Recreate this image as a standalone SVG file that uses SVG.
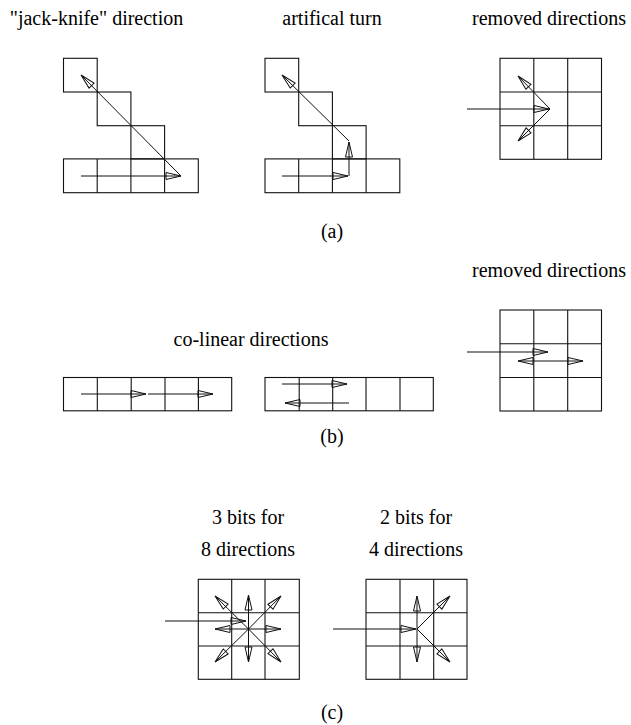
<svg xmlns="http://www.w3.org/2000/svg" width="631" height="725" viewBox="0 0 631 725">
<style>
.g{fill:none;stroke:#111;stroke-width:1.1}
.a{fill:none;stroke:#111;stroke-width:1}
.a{marker-end:url(#ah)}
text{font-family:"Liberation Serif","Times New Roman",serif;font-size:20px;fill:#000;text-anchor:middle}
</style>
<defs>
<marker id="ah" viewBox="-1 -5 17 10" refX="15" refY="0" markerWidth="17" markerHeight="10" markerUnits="userSpaceOnUse" orient="auto">
<path d="M0,-3.5 L15,0 L0,3.5 Z" fill="none" stroke="#111" stroke-width="1"/>
</marker>
</defs>
<rect width="631" height="725" fill="#fff"/>

<g id="labels">
<text x="96.5" y="25">"jack-knife" direction</text>
<text x="332" y="25">artifical turn</text>
<text x="549" y="25">removed directions</text>
<text x="332" y="238">(a)</text>
<text x="549" y="277">removed directions</text>
<text x="251" y="346">co-linear directions</text>
<text x="332" y="443">(b)</text>
<text x="248" y="524">3 bits for</text>
<text x="248" y="556">8 directions</text>
<text x="416" y="524">2 bits for</text>
<text x="416" y="556">4 directions</text>
<text x="332" y="719">(c)</text>
</g>

<g id="a-jackknife">
<rect class="g" x="63.5" y="58.3" width="33.7" height="33.7"/>
<rect class="g" x="97.2" y="92" width="33.7" height="33.7"/>
<rect class="g" x="130.9" y="125.7" width="33.7" height="33.2"/>
<rect class="g" x="63.5" y="158.9" width="134.8" height="33.8"/>
<path class="g" d="M97.2,158.9V192.7M130.9,158.9V192.7M164.6,158.9V192.7"/>
</g>

<g id="a-artificial">
<rect class="g" x="265" y="58.3" width="33.7" height="33.7"/>
<rect class="g" x="298.7" y="92" width="33.7" height="33.7"/>
<rect class="g" x="332.4" y="125.7" width="33.7" height="33.2"/>
<rect class="g" x="265" y="158.9" width="134.8" height="33.8"/>
<path class="g" d="M298.7,158.9V192.7M332.4,158.9V192.7M366.1,158.9V192.7"/>
</g>

<g id="a-removed">
<rect class="g" x="500" y="58.3" width="101.5" height="101"/>
<path class="g" d="M533.8,58.3V159.3M567.7,58.3V159.3M500,92H601.5M500,125.7H601.5"/>
</g>

<g id="b-colinear1">
<rect class="g" x="63.5" y="377.5" width="168.2" height="33.3"/>
<path class="g" d="M97.3,377.5V410.8M131.2,377.5V410.8M165,377.5V410.8M198.4,377.5V410.8"/>
</g>

<g id="b-colinear2">
<rect class="g" x="265" y="377.5" width="168.3" height="33.3"/>
<path class="g" d="M299.2,377.5V410.8M332.7,377.5V410.8M366,377.5V410.8M400,377.5V410.8"/>
</g>

<g id="b-removed">
<rect class="g" x="500" y="310" width="101.5" height="101"/>
<path class="g" d="M533.8,310V411M567.7,310V411M500,343.7H601.5M500,377.5H601.5"/>
</g>

<g id="c-8dir">
<rect class="g" x="198.3" y="579.3" width="101" height="100"/>
<path class="g" d="M231.7,579.3V679.3M265,579.3V679.3M198.3,612.7H299.3M198.3,646H299.3"/>
</g>

<g id="c-4dir">
<rect class="g" x="366" y="579.3" width="101" height="100"/>
<path class="g" d="M400,579.3V679.3M433.7,579.3V679.3M366,612.7H467M366,646H467"/>
</g>

<g id="connectors">
<line class="a" x1="81" y1="176" x2="181" y2="176"/>
<line class="a" x1="181" y1="176" x2="81" y2="75"/>

<line class="a" x1="282" y1="176" x2="348" y2="176"/>
<line class="a" x1="349" y1="176" x2="349" y2="142"/>
<line class="a" x1="349" y1="141" x2="282" y2="75"/>

<line class="a" x1="467" y1="109" x2="549" y2="109"/>
<line class="a" x1="550" y1="109" x2="518" y2="76"/>
<line class="a" x1="550" y1="109" x2="518" y2="141"/>

<line class="a" x1="81" y1="394" x2="146" y2="394"/>
<line class="a" x1="148" y1="394" x2="213" y2="394"/>

<line class="a" x1="282" y1="384" x2="347" y2="384"/>
<line class="a" x1="349" y1="403" x2="285" y2="403"/>

<line class="a" x1="467" y1="352" x2="548" y2="352"/>
<line class="a" x1="550" y1="361" x2="518" y2="361"/>
<line class="a" x1="550" y1="361" x2="583" y2="361"/>

<line class="a" x1="165" y1="621" x2="246" y2="621"/>
<line class="a" x1="248.5" y1="629" x2="248.5" y2="595"/>
<line class="a" x1="248.5" y1="629" x2="248.5" y2="662"/>
<line class="a" x1="248.5" y1="629" x2="215" y2="629"/>
<line class="a" x1="248.5" y1="629" x2="281" y2="629"/>
<line class="a" x1="248.5" y1="629" x2="215" y2="596"/>
<line class="a" x1="248.5" y1="629" x2="281" y2="596"/>
<line class="a" x1="248.5" y1="629" x2="215" y2="662"/>
<line class="a" x1="248.5" y1="629" x2="281" y2="662"/>

<line class="a" x1="333" y1="629" x2="416" y2="629"/>
<line class="a" x1="417" y1="629" x2="417" y2="596"/>
<line class="a" x1="417" y1="629" x2="417" y2="662"/>
<line class="a" x1="417" y1="629" x2="450" y2="596"/>
<line class="a" x1="417" y1="629" x2="450" y2="662"/>
</g>
</svg>
